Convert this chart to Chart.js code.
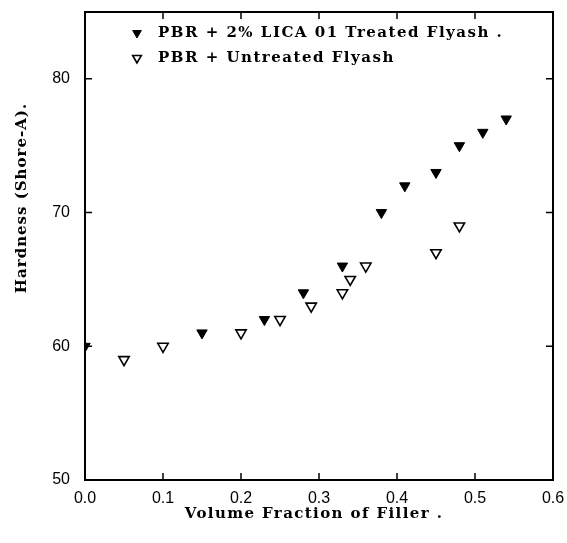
<!DOCTYPE html>
<html lang="en">
<head>
    <meta charset="UTF-8">
    <script src="https://cdn.jsdelivr.net/npm/chart.js"></script>
    <title>Hardness</title>
    <style>
        body { margin: 0; background: #fff; }
        .chart { width: 567px; height: 543px; }
    </style>
</head>
<body>
    <div class="chart">
        <canvas id="myChart"></canvas>
    </div>
<script>
    // dados
    const treatedX = [0.0, 0.15, 0.23, 0.28, 0.33, 0.38, 0.41, 0.45, 0.48, 0.51, 0.54];
    const treatedY = [60, 61, 62, 64, 66, 70, 72, 73, 75, 76, 77];
    const untreatedX = [0.05, 0.10, 0.20, 0.25, 0.29, 0.33, 0.34, 0.36, 0.45, 0.48];
    const untreatedY = [59, 60, 61, 62, 63, 64, 65, 66, 67, 69];
    const seriesNames = ['PBR + 2% LICA 01 Treated Flyash .', 'PBR + Untreated Flyash'];
    const xTitle = 'Volume Fraction of Filler .';
    const yTitle = 'Hardness (Shore-A).';

    function pontos(xs, ys) {
        return xs.map(function (x, i) { return { x: x, y: ys[i] }; });
    }

    const serif = '"DejaVu Serif", serif';

    // ticks para dentro, caixa, legenda e titulos
    const extras = {
        id: 'extras',
        afterDraw: function (chart) {
            const ctx = chart.ctx;
            const a = chart.chartArea;
            const sx = chart.scales.x;
            const sy = chart.scales.y;
            ctx.save();
            ctx.strokeStyle = '#000';
            ctx.lineWidth = 2;
            ctx.strokeRect(a.left, a.top, a.right - a.left, a.bottom - a.top);
            ctx.lineWidth = 1.5;
            ctx.beginPath();
            sx.ticks.forEach(function (t) {
                const px = sx.getPixelForValue(t.value);
                ctx.moveTo(px, a.bottom); ctx.lineTo(px, a.bottom - 7);
                ctx.moveTo(px, a.top); ctx.lineTo(px, a.top + 7);
            });
            sy.ticks.forEach(function (t) {
                const py = sy.getPixelForValue(t.value);
                ctx.moveTo(a.left, py); ctx.lineTo(a.left + 7, py);
                ctx.moveTo(a.right, py); ctx.lineTo(a.right - 7, py);
            });
            ctx.stroke();

            // legenda
            ctx.font = 'bold 15px ' + serif;
            ctx.textAlign = 'left';
            ctx.textBaseline = 'middle';
            chart.data.datasets.forEach(function (ds, i) {
                const y = 33 + i * 25;
                ctx.fillStyle = ds.backgroundColor;
                ctx.strokeStyle = ds.borderColor;
                ctx.lineWidth = ds.borderWidth;
                Chart.helpers.drawPoint(ctx, {
                    pointStyle: ds.pointStyle, rotation: ds.rotation,
                    radius: 5, borderWidth: ds.borderWidth
                }, 137, y);
                ctx.fillStyle = '#000';
                ctx.letterSpacing = '1.5px';
                ctx.fillText(ds.label, 158, y);
            });

            // titulos
            ctx.textAlign = 'center';
            ctx.letterSpacing = '1.4px';
            ctx.fillText(xTitle, 314, 514);
            ctx.letterSpacing = '1px';
            ctx.translate(22, 198);
            ctx.rotate(-Math.PI / 2);
            ctx.fillText(yTitle, 0, 0);
            ctx.restore();
        }
    };

    const dados = {
        datasets: [{
            label: seriesNames[0],
            data: pontos(treatedX, treatedY),
            pointStyle: 'triangle',
            rotation: 180,
            pointRadius: 6,
            borderWidth: 1,
            backgroundColor: '#000',
            borderColor: '#000'
        }, {
            label: seriesNames[1],
            data: pontos(untreatedX, untreatedY),
            pointStyle: 'triangle',
            rotation: 180,
            pointRadius: 6,
            borderWidth: 1.6,
            backgroundColor: '#fff',
            borderColor: '#000'
        }]
    };

    const config = {
        type: 'scatter',
        data: dados,
        plugins: [extras],
        options: {
            responsive: true,
            maintainAspectRatio: false,
            animation: false,
            layout: { padding: { left: 0, right: 14, top: 12, bottom: 0 } },
            plugins: {
                legend: { display: false },
                tooltip: { enabled: false }
            },
            scales: {
                x: {
                    type: 'linear',
                    min: 0, max: 0.6,
                    grid: { display: false, drawTicks: false },
                    border: { display: false },
                    afterFit: function (s) {
                        s.height = 63;
                        s.paddingLeft = 0;
                        s.paddingRight = 0;
                    },
                    ticks: {
                        stepSize: 0.1,
                        padding: 9,
                        color: '#000',
                        font: { family: '"Liberation Sans", sans-serif', size: 16 },
                        callback: function (v) { return Number(v).toFixed(1); }
                    }
                },
                y: {
                    min: 50, max: 85,
                    grid: { display: false, drawTicks: false },
                    border: { display: false },
                    afterFit: function (s) {
                        s.width = 85;
                        s.paddingTop = 0;
                        s.paddingBottom = 0;
                    },
                    afterBuildTicks: function (s) {
                        s.ticks = s.ticks.filter(function (t) { return t.value % 10 === 0; });
                    },
                    ticks: {
                        stepSize: 10,
                        padding: 15,
                        color: '#000',
                        font: { family: '"Liberation Sans", sans-serif', size: 16 }
                    }
                }
            }
        }
    };

    const myChart = new Chart(document.getElementById('myChart'), config);
</script>
</body>
</html>
